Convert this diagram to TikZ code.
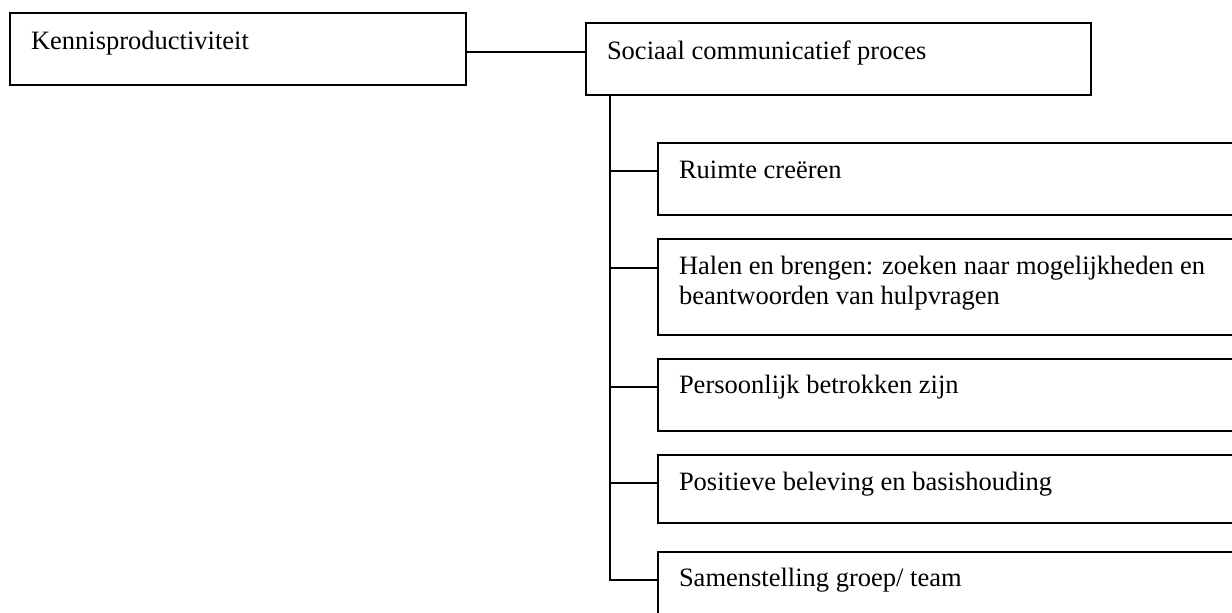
\documentclass[tikz,border=0pt]{standalone}
\usepackage{fontspec}
\setmainfont{Liberation Serif}
\tikzset{
  box/.style={draw=black, line width=1.8pt, rectangle, inner sep=0pt, outer sep=0pt, anchor=north west},
  lbl/.style={anchor=base west, inner sep=0pt, outer sep=0pt, font=\fontsize{26.5}{30}\selectfont},
  conn/.style={draw=black, line width=1.8pt}
}
\begin{document}
\begin{tikzpicture}[x=1pt,y=-1pt]
\useasboundingbox (0,0) rectangle (1232,613);
\clip (0,0) rectangle (1232,613);
\fill[white] (0,0) rectangle (1232,613);
% boxes
\node[box, minimum width=456pt, minimum height=72pt] (k) at (10,13) {};
\node[box, minimum width=505pt, minimum height=72pt] (s) at (586,23) {};
\node[box, minimum width=620pt, minimum height=72pt] (c1) at (658,143) {};
\node[box, minimum width=620pt, minimum height=96pt] (c2) at (658,239) {};
\node[box, minimum width=620pt, minimum height=72pt] (c3) at (658,359) {};
\node[box, minimum width=620pt, minimum height=68pt] (c4) at (658,455) {};
\node[box, minimum width=620pt, minimum height=90pt] (c5) at (658,552) {};
% labels
\node[lbl] (kl) at (31,49) {Kennisproductiviteit};
\node[lbl] (sl) at (607,59) {Sociaal communicatief proces};
\node[lbl] (c1l) at (679,178) {Ruimte creëren};
\node[lbl] (c2l) at (679,274) {\begin{tabular}[t]{@{}l@{}}Halen en brengen: zoeken naar mogelijkheden en\\beantwoorden van hulpvragen\end{tabular}};
\node[lbl] (c3l) at (679,393) {Persoonlijk betrokken zijn};
\node[lbl] (c4l) at (679,490) {Positieve beleving en basishouding};
\node[lbl] (c5l) at (679,586) {Samenstelling groep/ team};
% connectors
\draw[conn] (k.east |- 0,52) -- (s.west |- 0,52);
\coordinate (t) at ([xshift=24pt]s.south west);
\draw[conn] (t) -- (t |- 0,580) -- (c5.west |- 0,580);
\draw[conn] (t |- 0,171) -- (c1.west |- 0,171);
\draw[conn] (t |- 0,268) -- (c2.west |- 0,268);
\draw[conn] (t |- 0,387) -- (c3.west |- 0,387);
\draw[conn] (t |- 0,483) -- (c4.west |- 0,483);
\end{tikzpicture}
\end{document}
